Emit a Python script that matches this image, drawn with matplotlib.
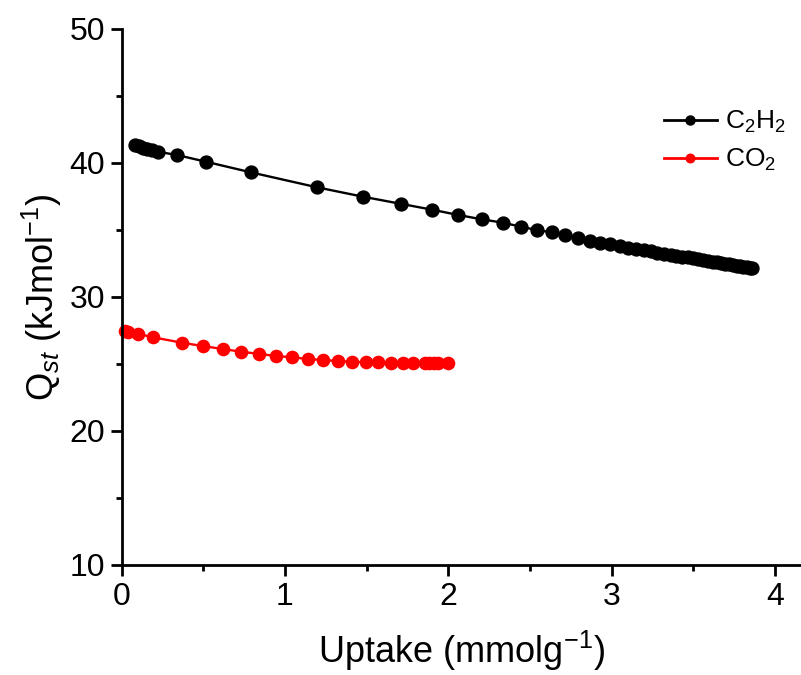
import matplotlib
matplotlib.use("Agg")
import matplotlib.pyplot as plt
from matplotlib.ticker import MultipleLocator

plt.rcParams['font.family'] = ['Liberation Sans', 'DejaVu Sans']
plt.rcParams['mathtext.fontset'] = 'custom'
plt.rcParams['mathtext.rm'] = 'Liberation Sans'
plt.rcParams['mathtext.it'] = 'Liberation Sans:italic'

# C2H2 isosteric heat
c2h2_x = [0.083, 0.107, 0.13, 0.156, 0.187, 0.223, 0.338, 0.515, 0.793, 1.195,
          1.476, 1.711, 1.899, 2.061, 2.204, 2.336, 2.443, 2.541, 2.633, 2.714,
          2.796, 2.867, 2.928, 2.99, 3.051, 3.102, 3.15, 3.195, 3.24, 3.28,
          3.32, 3.36, 3.395, 3.43, 3.465, 3.50, 3.53, 3.56, 3.59, 3.62,
          3.645, 3.67, 3.695, 3.72, 3.745, 3.765, 3.785, 3.805, 3.825, 3.845, 3.86]
c2h2_y = [41.34, 41.25, 41.15, 41.05, 40.95, 40.84, 40.6, 40.1, 39.3, 38.19,
          37.49, 36.95, 36.52, 36.12, 35.80, 35.54, 35.25, 35.0, 34.83, 34.63,
          34.38, 34.2, 34.05, 33.93, 33.81, 33.68, 33.58, 33.49, 33.40, 33.32,
          33.24, 33.16, 33.09, 33.02, 32.95, 32.88, 32.82, 32.76, 32.70, 32.64,
          32.59, 32.54, 32.49, 32.44, 32.39, 32.35, 32.31, 32.27, 32.23, 32.19, 32.16]

# CO2 isosteric heat
co2_x = [0.021, 0.042, 0.104, 0.195, 0.369, 0.497, 0.619, 0.731, 0.843, 0.944,
         1.045, 1.143, 1.235, 1.323, 1.413, 1.494, 1.571, 1.649, 1.721, 1.786,
         1.857, 1.88, 1.91, 1.939, 1.996]
co2_y = [27.49, 27.41, 27.24, 26.99, 26.59, 26.34, 26.12, 25.92, 25.75, 25.60,
         25.50, 25.37, 25.30, 25.22, 25.17, 25.13, 25.12, 25.10, 25.09, 25.09,
         25.09, 25.09, 25.09, 25.10, 25.10]

series_labels = [r'C$_2$H$_2$', r'CO$_2$']
x_label = r'Uptake (mmolg$^{-1}$)'
y_label = r'Q$_{\mathit{st}}$ (kJmol$^{-1}$)'

fig = plt.figure(figsize=(8.01, 6.75), dpi=100)
ax = fig.add_axes([121.5 / 801, 1 - 565 / 675, 1 - 121.5 / 801, (565 - 29) / 675])

ax.plot(c2h2_x, c2h2_y, '-o', color='black', lw=1.7, ms=9.3, label=series_labels[0], clip_on=False)
ax.plot(co2_x, co2_y, '-o', color='#ff0000', lw=1.7, ms=8.8, label=series_labels[1], clip_on=False)

ax.set_xlim(0, (801 - 121.5) / 163.4)
ax.set_ylim(10, 50)
ax.xaxis.set_major_locator(MultipleLocator(1))
ax.xaxis.set_minor_locator(MultipleLocator(0.5))
ax.yaxis.set_major_locator(MultipleLocator(10))
ax.yaxis.set_minor_locator(MultipleLocator(5))

for s in ['top', 'right']:
    ax.spines[s].set_visible(False)
for s in ['left', 'bottom']:
    ax.spines[s].set_linewidth(2)

ax.tick_params(which='major', direction='out', length=8, width=2, labelsize=23, pad=4)
ax.tick_params(which='minor', direction='out', length=4.5, width=2)

ax.set_xlabel(x_label, fontsize=26, labelpad=12)
ax.set_ylabel(y_label, fontsize=26, labelpad=4)

leg = ax.legend(loc='upper right', bbox_to_anchor=(1.012, 0.895), frameon=False, fontsize=19,
                handlelength=2.0, markerscale=0.7, handletextpad=0.3, labelspacing=0.45)
for h in leg.legend_handles:
    h.set_linewidth(2)

fig.savefig('out.png', dpi=100)
